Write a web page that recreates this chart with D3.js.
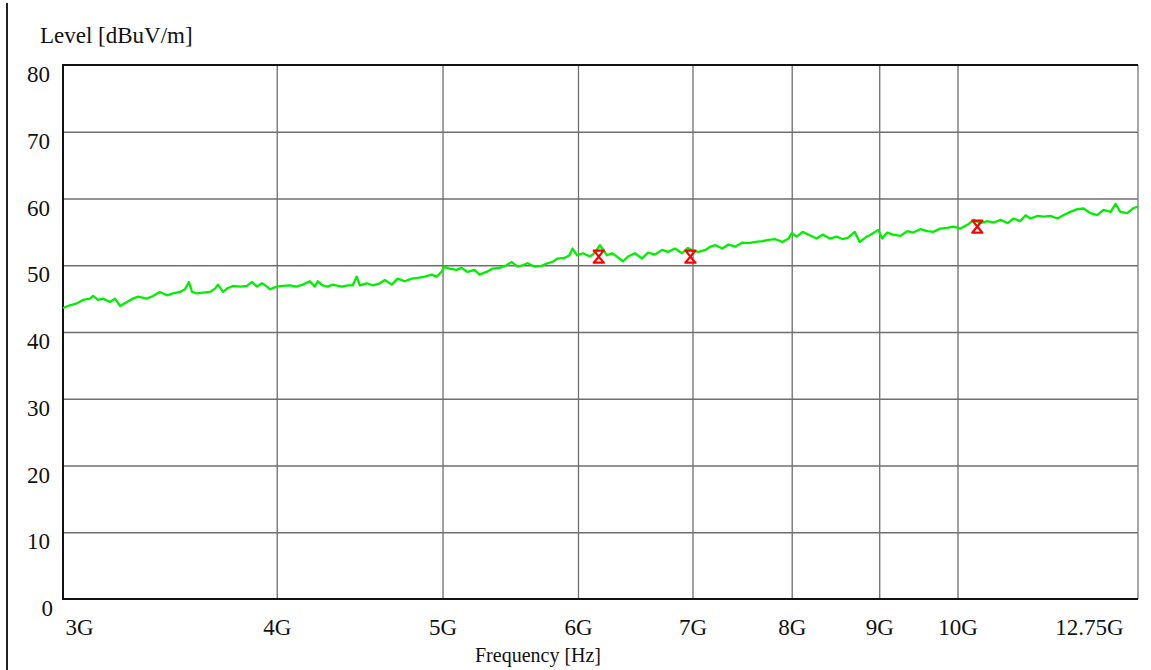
<!DOCTYPE html>
<html>
<head>
<meta charset="utf-8">
<script src="https://cdn.jsdelivr.net/npm/d3@7"></script>
<style>
  body { margin: 0; background: #fff; }
  svg text { font-family: "Liberation Serif", "Times New Roman", serif; fill: #111; }
</style>
</head>
<body>
<div id="chart"></div>
<script>
// sweep: frequency in GHz, level in dBuV/m
const freqGHz = [
  3.000, 3.028, 3.057, 3.082, 3.111, 3.124, 3.145, 3.166, 3.196, 3.218,
  3.239, 3.270, 3.296, 3.319, 3.359, 3.386, 3.418, 3.451, 3.479, 3.512,
  3.535, 3.554, 3.569, 3.593, 3.622, 3.656, 3.681, 3.696, 3.721, 3.746,
  3.771, 3.807, 3.843, 3.869, 3.895, 3.921, 3.948, 3.964, 4.000, 4.032,
  4.071, 4.109, 4.142, 4.182, 4.210, 4.227, 4.255, 4.284, 4.313, 4.366,
  4.401, 4.431, 4.455, 4.473, 4.515, 4.552, 4.595, 4.626, 4.670, 4.707,
  4.752, 4.797, 4.836, 4.882, 4.928, 4.961, 4.993, 5.013, 5.047, 5.095,
  5.130, 5.171, 5.220, 5.255, 5.305, 5.348, 5.399, 5.450, 5.487, 5.531,
  5.568, 5.606, 5.659, 5.713, 5.759, 5.798, 5.837, 5.892, 5.932, 5.956,
  5.992, 6.040, 6.098, 6.139, 6.180, 6.239, 6.281, 6.323, 6.375, 6.418,
  6.478, 6.540, 6.593, 6.655, 6.718, 6.773, 6.837, 6.902, 6.957, 7.009,
  7.057, 7.124, 7.172, 7.220, 7.288, 7.347, 7.417, 7.487, 7.548, 7.619,
  7.692, 7.754, 7.827, 7.901, 7.966, 8.000, 8.054, 8.119, 8.196, 8.274,
  8.341, 8.420, 8.500, 8.568, 8.626, 8.708, 8.767, 8.850, 8.886, 8.988,
  9.036, 9.097, 9.171, 9.258, 9.346, 9.421, 9.511, 9.601, 9.679, 9.770,
  9.863, 9.943, 10.04, 10.14, 10.22, 10.31, 10.41, 10.50, 10.60, 10.70,
  10.78, 10.88, 10.96, 11.03, 11.14, 11.23, 11.33, 11.44, 11.53, 11.64,
  11.75, 11.85, 11.96, 12.07, 12.17, 12.29, 12.37, 12.45, 12.57, 12.66,
  12.75
];
const levelDb = [
  43.6, 44.0, 44.3, 44.8, 45.0, 45.4, 44.8, 45.0, 44.5, 45.0,
  43.9, 44.5, 45.0, 45.3, 45.0, 45.4, 46.0, 45.5, 45.8, 46.0,
  46.4, 47.5, 46.0, 45.8, 45.9, 46.0, 46.5, 47.1, 46.0, 46.6,
  46.9, 46.8, 46.9, 47.5, 46.8, 47.3, 46.8, 46.4, 46.8, 46.9,
  47.0, 46.8, 47.1, 47.6, 46.8, 47.6, 47.0, 46.8, 47.1, 46.8,
  47.0, 47.0, 48.3, 47.0, 47.3, 47.0, 47.3, 47.8, 47.1, 48.0,
  47.6, 48.0, 48.1, 48.3, 48.6, 48.3, 49.0, 49.8, 49.5, 49.3,
  49.6, 49.0, 49.3, 48.6, 49.0, 49.5, 49.6, 50.0, 50.5, 49.8,
  50.0, 50.3, 49.8, 49.9, 50.3, 50.5, 51.0, 51.1, 51.5, 52.5,
  51.5, 51.8, 51.3, 51.9, 53.0, 51.5, 51.8, 51.3, 50.6, 51.3,
  51.8, 51.0, 51.9, 51.6, 52.3, 52.0, 52.5, 51.8, 52.6, 52.1,
  52.0, 52.3, 52.8, 53.0, 52.5, 53.1, 52.8, 53.4, 53.3, 53.5,
  53.6, 53.8, 53.9, 53.5, 54.0, 54.8, 54.3, 55.0, 54.5, 54.0,
  54.6, 54.0, 54.3, 53.9, 54.1, 55.0, 53.5, 54.3, 54.5, 55.3,
  54.0, 54.9, 54.6, 54.4, 55.1, 54.9, 55.4, 55.1, 55.0, 55.5,
  55.6, 55.8, 55.5, 56.1, 56.8, 56.3, 56.6, 56.4, 56.8, 56.3,
  57.0, 56.6, 57.5, 57.0, 57.4, 57.3, 57.4, 57.0, 57.5, 58.0,
  58.4, 58.5, 57.8, 57.5, 58.3, 58.0, 59.2, 58.0, 57.8, 58.5,
  58.8
];

// final measurement markers
const markerFreqGHz = [6.17, 6.98, 10.27];
const markerLevelDb = [51.3, 51.3, 55.8];

// axes
const xTicks = [3, 4, 5, 6, 7, 8, 9, 10, 12.75];
const xTickLabels = ["3G", "4G", "5G", "6G", "7G", "8G", "9G", "10G", "12.75G"];
const yTicks = [0, 10, 20, 30, 40, 50, 60, 70, 80];

let width = 1151;
let height = 670;
let plotLeft = 63, plotRight = 1138, plotTop = 65, plotBottom = 599;

let x = d3.scaleLog().domain([3, 12.75]).range([plotLeft, plotRight]);
let y = d3.scaleLinear().domain([0, 80]).range([plotBottom, plotTop]);

let svg = d3.select("#chart")
    .append("svg")
    .attr("width", width)
    .attr("height", height);

// outer frame line on the left
svg.append("line")
    .attr("x1", 7).attr("x2", 7)
    .attr("y1", 3).attr("y2", height)
    .attr("stroke", "#222")
    .attr("stroke-width", 2);

// grid
let xGrid = svg.append("g")
    .attr("transform", "translate(0," + plotBottom + ")")
    .call(d3.axisBottom(x)
        .tickValues(xTicks.slice(1, -1))
        .tickSize(-(plotBottom - plotTop))
        .tickFormat(""));
let yGrid = svg.append("g")
    .attr("transform", "translate(" + plotLeft + ",0)")
    .call(d3.axisLeft(y)
        .tickValues(yTicks.slice(1, -1))
        .tickSize(-(plotRight - plotLeft))
        .tickFormat(""));
[xGrid, yGrid].forEach(function (g) {
    g.select(".domain").remove();
    g.selectAll("line")
        .attr("stroke", "#6e6e6e")
        .attr("stroke-width", 1.3);
});

// plot frame: right side grey, others black
svg.append("line")
    .attr("x1", plotRight).attr("x2", plotRight)
    .attr("y1", plotTop).attr("y2", plotBottom)
    .attr("stroke", "#8a8a8a").attr("stroke-width", 1.5);
svg.append("path")
    .attr("d", "M" + plotRight + "," + plotTop + "H" + plotLeft + "V" + plotBottom + "H" + plotRight)
    .attr("fill", "none")
    .attr("stroke", "#111")
    .attr("stroke-width", 2);

// tick labels
let xAxis = svg.append("g")
    .attr("transform", "translate(0," + plotBottom + ")")
    .call(d3.axisBottom(x)
        .tickValues(xTicks)
        .tickSize(0)
        .tickPadding(36)
        .tickFormat(function (d, i) { return xTickLabels[i]; }));
xAxis.select(".domain").remove();
xAxis.selectAll("text")
    .attr("font-size", 23)
    .attr("fill", "#111")
    .attr("font-family", "Liberation Serif")
    .attr("dy", "0")
    .attr("text-anchor", function (d, i) {
        return i === 0 ? "start" : (i === xTicks.length - 1 ? "end" : "middle");
    })
    .attr("dx", function (d, i) {
        return i === 0 ? 2 : (i === xTicks.length - 1 ? -15 : 0);
    });

let yAxis = svg.append("g")
    .attr("transform", "translate(" + plotLeft + ",0)")
    .call(d3.axisLeft(y)
        .tickValues(yTicks)
        .tickSize(0)
        .tickPadding(13));
yAxis.select(".domain").remove();
yAxis.selectAll("text")
    .attr("font-size", 23)
    .attr("fill", "#111")
    .attr("font-family", "Liberation Serif")
    .attr("dy", "0.72em")
    .attr("dx", function (d) { return d === 0 ? 3 : 0; });

// titles
svg.append("text")
    .attr("x", 40)
    .attr("y", 43)
    .attr("font-size", 23)
    .text("Level [dBuV/m]");
svg.append("text")
    .attr("x", 538)
    .attr("y", 662)
    .attr("text-anchor", "middle")
    .attr("font-size", 20)
    .text("Frequency [Hz]");

// trace
let trace = freqGHz.map(function (f, i) { return [f, levelDb[i]]; });
svg.append("path")
    .datum(trace)
    .attr("fill", "none")
    .attr("stroke", "#00f000")
    .attr("stroke-width", 2.3)
    .attr("stroke-linejoin", "round")
    .attr("d", d3.line()
        .x(function (d) { return x(d[0]); })
        .y(function (d) { return y(d[1]); }));

// markers
svg.selectAll(".marker")
    .data(markerFreqGHz)
    .enter()
    .append("path")
    .attr("class", "marker")
    .attr("transform", function (d, i) {
        return "translate(" + x(d) + "," + y(markerLevelDb[i]) + ")";
    })
    .attr("d", "M-6,-6H6M-6,6H6M-4.5,-5.5L4.5,5.5M4.5,-5.5L-4.5,5.5")
    .attr("fill", "none")
    .attr("stroke", "#ff0000")
    .attr("stroke-width", 2.2);
</script>
</body>
</html>
